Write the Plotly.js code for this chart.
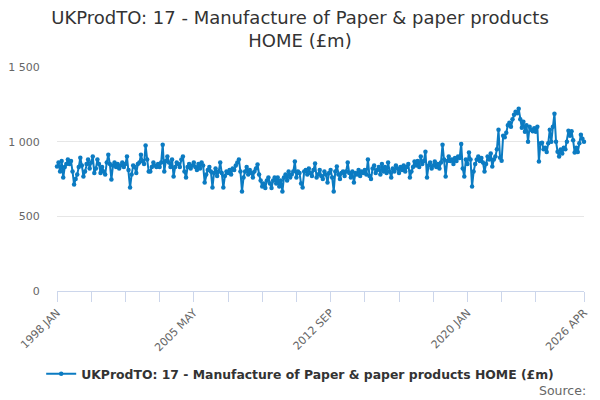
<!DOCTYPE html>
<html>
<head>
<meta charset="utf-8">
<script src="https://cdn.plot.ly/plotly-3.0.1.min.js"></script>
<style>
html,body{margin:0;padding:0;background:#fff;}
#chart{width:600px;height:400px;}
</style>
</head>
<body>
<div id="chart"></div>
<script>
// ---- data ----
var monthNames = ["JAN","FEB","MAR","APR","MAY","JUN","JUL","AUG","SEP","OCT","NOV","DEC"];
var startYear = 1998;
var v1998 = [833, 860, 800, 870, 760, 830, 850, 880, 850, 870, 800, 713];
var v1999 = [750, 780, 830, 893, 840, 767, 800, 850, 880, 820, 860, 900];
var v2000 = [790, 820, 880, 850, 790, 830, 800, 780, 860, 913, 850, 747];
var v2001 = [840, 860, 830, 850, 820, 840, 860, 830, 850, 900, 810, 693];
var v2002 = [780, 840, 830, 790, 850, 860, 913, 870, 850, 975, 880, 800];
var v2003 = [800, 830, 860, 840, 830, 850, 830, 860, 980, 800, 870, 900];
var v2004 = [860, 830, 880, 767, 830, 860, 850, 830, 880, 900, 800, 760];
var v2005 = [830, 850, 820, 840, 860, 830, 810, 850, 820, 860, 840, 727];
var v2006 = [780, 810, 830, 800, 693, 790, 820, 770, 800, 860, 790, 693];
var v2007 = [770, 800, 790, 810, 780, 820, 810, 840, 860, 880, 800, 667];
var v2008 = [760, 800, 830, 780, 810, 790, 760, 800, 820, 847, 780, 740];
var v2009 = [700, 720, 690, 740, 760, 720, 690, 740, 760, 720, 760, 700];
var v2010 = [740, 667, 760, 780, 740, 800, 760, 780, 800, 867, 760, 800];
var v2011 = [790, 720, 693, 800, 810, 780, 820, 790, 770, 810, 853, 760];
var v2012 = [780, 810, 770, 750, 800, 780, 727, 790, 810, 760, 667, 800];
var v2013 = [833, 780, 750, 790, 800, 770, 800, 860, 790, 760, 800, 727];
var v2014 = [790, 780, 810, 770, 800, 790, 810, 780, 880, 770, 750, 820];
var v2015 = [840, 790, 810, 830, 780, 850, 800, 830, 790, 860, 800, 760];
var v2016 = [820, 800, 840, 820, 790, 830, 810, 840, 800, 830, 850, 760];
var v2017 = [800, 830, 867, 840, 870, 830, 900, 850, 870, 933, 760, 840];
var v2018 = [860, 820, 840, 867, 830, 850, 820, 860, 980, 880, 767, 870];
var v2019 = [900, 870, 880, 850, 890, 870, 900, 890, 985, 820, 767, 880];
var v2020 = [850, 927, 880, 700, 800, 850, 880, 900, 870, 890, 860, 800];
var v2021 = [850, 900, 880, 920, 833, 880, 900, 950, 1080, 893, 873, 1040];
var v2022 = [1030, 1060, 1110, 1127, 1100, 1150, 1180, 1200, 1190, 1220, 1150, 1093];
var v2023 = [1133, 1067, 1110, 1000, 1100, 1080, 1070, 1090, 1067, 1100, 867, 990];
var v2024 = [993, 950, 960, 930, 990, 1080, 1000, 1100, 1187, 1000, 933, 900];
var v2025 = [947, 920, 960, 950, 1000, 1073, 1040, 1070, 1010, 927, 960, 930];
var v2026 = [990, 1047, 1020, 1000];
var yearlyValues = [v1998,v1999,v2000,v2001,v2002,v2003,v2004,v2005,v2006,v2007,v2008,v2009,v2010,
  v2011,v2012,v2013,v2014,v2015,v2016,v2017,v2018,v2019,v2020,v2021,v2022,v2023,v2024,v2025,v2026];
var majorLabels = ["1998 JAN","2005 MAY","2012 SEP","2020 JAN","2026 APR"];
var yTickVals = [0, 500, 1000, 1500];
var yTickText = ["0", "500", "1 000", "1 500"];
var seriesName = "UKProdTO: 17 - Manufacture of Paper &amp; paper products HOME (£m)";
var titleText = "UKProdTO: 17 - Manufacture of Paper &amp; paper products<br>HOME (£m)";

// ---- build ----
var cats = [], vals = [];
yearlyValues.forEach(function(arr, yi){
  arr.forEach(function(v, mi){
    cats.push((startYear + yi) + " " + monthNames[mi]);
    vals.push(v);
  });
});
var tickVals = [], tickText = [];
for (var i = 0; i < cats.length - 22; i += 22) {
  tickVals.push(cats[i]);
  tickText.push(majorLabels.indexOf(cats[i]) >= 0 ? cats[i] : "");
}
tickVals.push(cats[cats.length-1]);
tickText.push(cats[cats.length-1]);

var FONT = "DejaVu Sans, Verdana, sans-serif";
var color = "#0b7bc2";

var trace = {
  x: cats, y: vals, type: "scatter", mode: "lines+markers",
  name: seriesName,
  line: {color: color, width: 2},
  marker: {color: color, size: 4.5},
  cliponaxis: false,
  hoverinfo: "x+y"
};

var layout = {
  width: 600, height: 400,
  paper_bgcolor: "#fff", plot_bgcolor: "#fff",
  margin: {l: 57, r: 16, t: 67, b: 108},
  font: {family: FONT, color: "#666", size: 11},
  title: {text: titleText, x: 0.5, xanchor: "center", y: 0.94, yanchor: "top",
          font: {family: FONT, size: 18, color: "#333"}},
  xaxis: {
    type: "category", range: [0, cats.length - 1],
    tickmode: "array", tickvals: tickVals, ticktext: tickText,
    tickangle: -45, ticks: "outside", ticklen: 10, tickcolor: "#ccd6eb", tickwidth: 1,
    showline: true, linecolor: "#ccd6eb", linewidth: 1,
    showgrid: false, zeroline: false,
    tickfont: {family: FONT, size: 11, color: "#666"}
  },
  yaxis: {
    range: [0, 1500], tickmode: "array", tickvals: yTickVals, ticktext: yTickText,
    showgrid: true, gridcolor: "#e6e6e6", gridwidth: 1, zeroline: false, showline: false,
    ticks: "outside", ticklen: 14, tickcolor: "rgba(0,0,0,0)",
    tickfont: {family: FONT, size: 11, color: "#666"}
  },
  showlegend: true,
  legend: {orientation: "h", x: -0.03, xanchor: "left", y: -0.365, yanchor: "middle",
           font: {family: FONT, size: 12.4, color: "#333", weight: "bold"},
           itemwidth: 30},
  annotations: [{
    text: "Source:", xref: "paper", yref: "paper", x: 1.0076, y: -0.445,
    xanchor: "right", yanchor: "middle", showarrow: false,
    font: {family: FONT, size: 12.5, color: "#666"}
  }]
};

Plotly.newPlot("chart", [trace], layout, {displayModeBar: false, staticPlot: true});
</script>
</body>
</html>
